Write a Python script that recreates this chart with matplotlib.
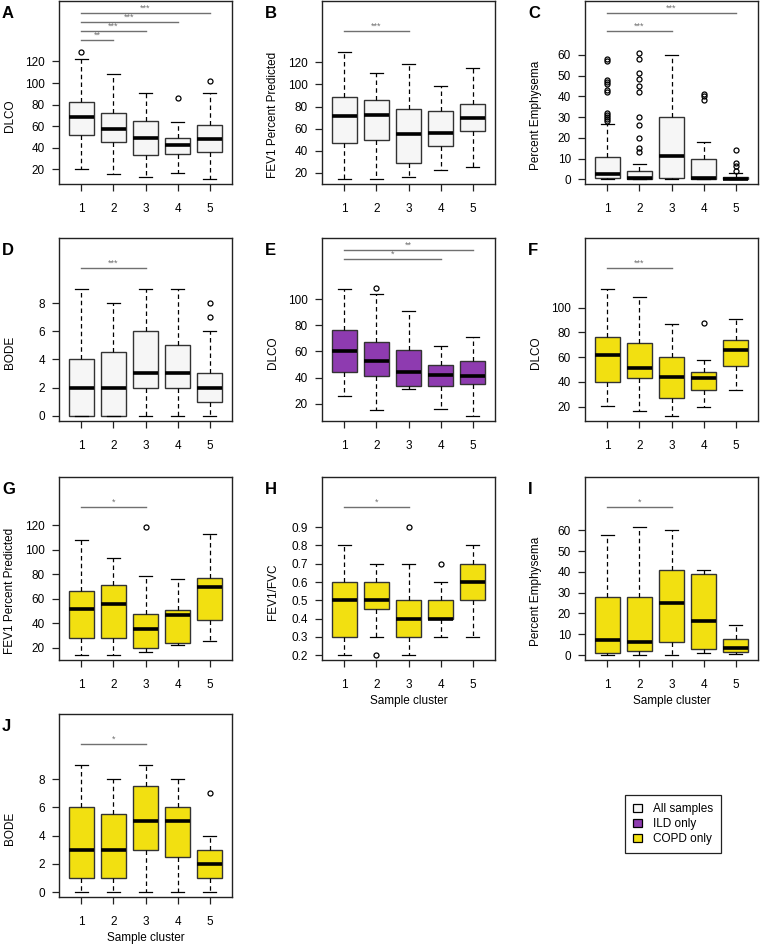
import matplotlib
matplotlib.use('Agg')
import matplotlib.pyplot as plt
import matplotlib.transforms as mtransforms
from matplotlib.patches import Patch

plt.rcParams['font.family'] = ['Liberation Sans', 'DejaVu Sans']

clusters = [1, 2, 3, 4, 5]

# five-number summaries per cluster: [lower whisker, Q1, median, Q3, upper whisker]
dlco_all = [[20.6, 51.9, 68.8, 82.3, 122.5], [15.4, 45.2, 57.7, 72.4, 108.3],
            [12.9, 33.5, 48.8, 65.1, 91.2], [16.3, 34.0, 42.4, 49.1, 63.6],
            [11.1, 36.0, 48.2, 61.1, 91.2]]
dlco_all_out = [[128.3], [], [], [86.0], [102.2]]

fev1_all = [[14.3, 47.0, 71.1, 88.2, 129.0], [14.3, 49.5, 72.0, 86.1, 110.1],
            [16.1, 29.0, 55.4, 78.0, 118.5], [22.1, 44.6, 56.0, 76.2, 99.0],
            [25.1, 57.5, 69.9, 81.9, 115.2]]
fev1_all_out = [[], [], [], [], []]

emph_all = [[0.0, 0.5, 2.6, 11.0, 26.6], [0.0, 0.0, 0.5, 4.3, 7.5],
            [0.0, 0.6, 11.5, 30.1, 60.2], [0.0, 0.0, 0.6, 9.9, 17.9],
            [0.0, 0.0, 0.3, 1.3, 3.2]]
emph_all_out = [[58, 57, 48, 47, 46, 43, 42, 32, 31, 30, 29, 28],
                [61, 58, 51.5, 48.5, 45, 42, 30, 26, 20, 15, 13],
                [], [41.3, 40.2, 38.1], [14.4, 7.7, 6.6, 4.2]]

bode_all = [[0, 0, 2, 4, 9], [0, 0, 2, 4.5, 8], [0, 2, 3, 6, 9],
            [0, 2, 3, 5, 9], [0, 1, 2, 3, 6]]
bode_all_out = [[], [], [], [], [7, 8]]

dlco_ild = [[26.1, 44.1, 60.3, 76.2, 107.8], [14.9, 40.8, 52.9, 66.8, 104.0],
            [31.1, 33.9, 44.6, 60.8, 90.6], [16.0, 33.9, 42.0, 49.6, 63.8],
            [10.9, 34.9, 41.5, 52.9, 70.6]]
dlco_ild_out = [[], [108.6], [], [], []]

dlco_copd = [[20.8, 39.8, 61.5, 76.5, 115.3], [16.8, 43.0, 51.3, 71.1, 108.6],
             [12.8, 27.0, 43.8, 59.9, 86.4], [20.0, 33.9, 43.5, 47.8, 57.7],
             [33.9, 52.6, 66.0, 73.8, 90.9]]
dlco_copd_out = [[], [], [], [87.2], []]

fev1_copd = [[14.0, 28.2, 51.3, 65.9, 108.0], [14.0, 27.9, 55.3, 71.1, 93.1],
             [16.2, 19.7, 35.5, 47.6, 78.2], [22.4, 24.1, 46.4, 51.0, 76.4],
             [25.2, 42.7, 69.2, 77.2, 112.9]]
fev1_copd_out = [[], [], [118.6], [], []]

ratio_copd = [[0.2, 0.3, 0.5, 0.6, 0.8], [0.3, 0.45, 0.5, 0.6, 0.7],
              [0.2, 0.3, 0.4, 0.5, 0.7], [0.3, 0.395, 0.4, 0.5, 0.6],
              [0.3, 0.5, 0.6, 0.7, 0.8]]
ratio_copd_out = [[], [0.2], [0.9], [0.7], []]

emph_copd = [[0.0, 1.0, 7.2, 28.0, 57.9], [0.2, 2.1, 6.2, 28.0, 61.6],
             [0.0, 6.4, 25.0, 41.1, 60.0], [1.1, 2.9, 16.3, 39.0, 40.8],
             [0.5, 1.4, 3.2, 7.5, 14.4]]
emph_copd_out = [[], [], [], [], []]

bode_copd = [[0, 1, 3, 6, 9], [0, 1, 3, 5.5, 8], [0, 3, 5, 7.5, 9],
             [0, 2.5, 5, 6, 8], [0, 1, 2, 3, 4]]
bode_copd_out = [[], [], [], [], [7]]

# significance comparisons (group a, group b, label)
sig_A = [(1, 2, '**'), (1, 3, '***'), (1, 4, '***'), (1, 5, '***')]
sig_B = [(1, 3, '***')]
sig_C = [(1, 3, '***'), (1, 5, '***')]
sig_D = [(1, 3, '***')]
sig_E = [(1, 4, '*'), (1, 5, '**')]
sig_F = [(1, 3, '***')]
sig_G = [(1, 3, '*')]
sig_H = [(1, 3, '*')]
sig_I = [(1, 3, '*')]
sig_J = [(1, 3, '*')]

groups = ['All samples', 'ILD only', 'COPD only']
group_colors = ['#f6f6f6', '#8e3bb0', '#f2e011']

W, H = 760, 944
fig = plt.figure(figsize=(W / 100, H / 100), dpi=100)

col_left = [59, 322, 585]
row_top = [1, 238, 477, 714]
ax_w, ax_h = 173, 183


def make_stats(summ, out):
    stats = []
    for s, f in zip(summ, out):
        stats.append(dict(whislo=s[0], q1=s[1], med=s[2], q3=s[3],
                          whishi=s[4], fliers=f))
    return stats


def panel(row, col, letter, summ, out, color, ylabel, ylim, yticks,
          sig, xlabel=False, ytick_fmt=None):
    left = col_left[col]
    top = row_top[row]
    ax = fig.add_axes([left / W, 1 - (top + ax_h) / H, ax_w / W, ax_h / H])
    ax.bxp(make_stats(summ, out), positions=clusters, widths=0.8,
           patch_artist=True, capwidths=0.4,
           boxprops=dict(facecolor=color, edgecolor='#333333', lw=1.0),
           medianprops=dict(color='black', lw=2.6, solid_capstyle='butt'),
           whiskerprops=dict(color='black', lw=0.9, ls=(0, (3.6, 2.6))),
           capprops=dict(color='black', lw=0.9),
           flierprops=dict(marker='o', mfc='none', mec='black', ms=3.6,
                           mew=0.9, ls='none'))
    ax.set_xlim(0.3, 5.7)
    ax.set_ylim(*ylim)
    ax.set_xticks(clusters)
    ax.set_xticklabels([str(c) for c in clusters])
    ax.set_yticks(yticks)
    if ytick_fmt:
        ax.set_yticklabels([ytick_fmt.format(v) for v in yticks])
    ax.tick_params(axis='x', length=5.2, width=0.9, pad=8.5, labelsize=8.5,
                   color='#222222')
    ax.tick_params(axis='y', length=5.2, width=0.9, pad=5, labelsize=8.5,
                   color='#222222')
    for sp in ax.spines.values():
        sp.set_linewidth(1.0)
        sp.set_color('#222222')
    ax.set_ylabel(ylabel, fontsize=8.5)
    ax.yaxis.set_label_coords(-0.25, 0.375)
    if xlabel:
        ax.set_xlabel('Sample cluster', fontsize=8.5)
        ax.xaxis.set_label_coords(0.5, -0.19)

    trans = mtransforms.blended_transform_factory(ax.transData, ax.transAxes)
    for a, b, lab in sig:
        yf = 1 - (12 + 9 * (5 - b)) / ax_h
        ax.plot([a, b], [yf, yf], color='#707070', lw=1.0, transform=trans,
                clip_on=False)
        ax.text((a + b) / 2, yf + 0.5 / ax_h, lab, transform=trans,
                ha='center', va='bottom', fontsize=6.5, color='#707070')

    fig.text((left - 57) / W, 1 - (top + 5) / H, letter, fontsize=12,
             fontweight='bold', ha='left', va='top')
    return ax


panel(0, 0, 'A', dlco_all, dlco_all_out, group_colors[0], 'DLCO',
      (6.5, 176), [20, 40, 60, 80, 100, 120], sig_A)
panel(0, 1, 'B', fev1_all, fev1_all_out, group_colors[0],
      'FEV1 Percent Predicted', (9.8, 175.6), [20, 40, 60, 80, 100, 120], sig_B)
panel(0, 2, 'C', emph_all, emph_all_out, group_colors[0], 'Percent Emphysema',
      (-2.2, 86), [0, 10, 20, 30, 40, 50, 60], sig_C)
panel(1, 0, 'D', bode_all, bode_all_out, group_colors[0], 'BODE',
      (-0.38, 12.64), [0, 2, 4, 6, 8], sig_D)
panel(1, 1, 'E', dlco_ild, dlco_ild_out, group_colors[1], 'DLCO',
      (6.8, 146.6), [20, 40, 60, 80, 100], sig_E)
panel(1, 2, 'F', dlco_copd, dlco_copd_out, group_colors[2], 'DLCO',
      (8.5, 156.2), [20, 40, 60, 80, 100], sig_F)
panel(2, 0, 'G', fev1_copd, fev1_copd_out, group_colors[2],
      'FEV1 Percent Predicted', (9.9, 159.4), [20, 40, 60, 80, 100, 120], sig_G)
panel(2, 1, 'H', ratio_copd, ratio_copd_out, group_colors[2], 'FEV1/FVC',
      (0.173, 1.175), [0.2, 0.3, 0.4, 0.5, 0.6, 0.7, 0.8, 0.9], sig_H,
      xlabel=True, ytick_fmt='{:.1f}')
panel(2, 2, 'I', emph_copd, emph_copd_out, group_colors[2], 'Percent Emphysema',
      (-2.4, 85.6), [0, 10, 20, 30, 40, 50, 60], sig_I, xlabel=True)
panel(3, 0, 'J', bode_copd, bode_copd_out, group_colors[2], 'BODE',
      (-0.35, 12.6), [0, 2, 4, 6, 8], sig_J, xlabel=True)

handles = [Patch(facecolor=c, edgecolor='black', lw=0.9) for c in group_colors]
leg = fig.legend(handles, groups, loc='upper left',
                 bbox_to_anchor=(619 / W, 1 - 789 / H), fontsize=8.5,
                 handlelength=0.75, handleheight=0.75, handletextpad=0.9,
                 borderpad=0.7, labelspacing=0.25, fancybox=False,
                 edgecolor='#222222', framealpha=1)
leg.get_frame().set_linewidth(0.9)

fig.savefig('out.png', dpi=100)
